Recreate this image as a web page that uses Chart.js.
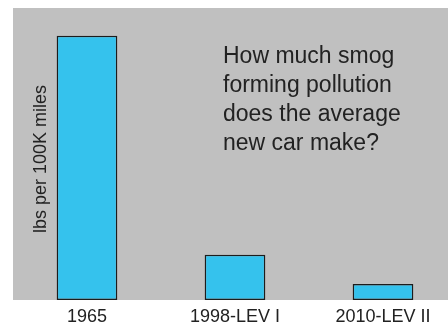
<!DOCTYPE html>
<html>
<head>
<meta charset="utf-8">
<script src="https://cdn.jsdelivr.net/npm/chart.js@4/dist/chart.umd.min.js"></script>
<style>
  html, body { margin: 0; padding: 0; background: #fff; }
  #wrap { width: 448px; height: 323px; overflow: hidden; }
  #wrap div { width: 457px; height: 323px; }
</style>
</head>
<body>
<div id="wrap"><div><canvas id="smogChart"></canvas></div></div>
<script>
const years = ['1965', '1998-LEV I', '2010-LEV II']
const lbsPer100kMiles = [995, 170, 60]
const yMax = 1100
const yTitle = 'lbs per 100K miles'
const question = ['How much smog', 'forming pollution', 'does the average', 'new car make?']

const textFont = '"Liberation Sans", Arial, sans-serif'

// gray panel behind the bars
const panelBackground = {
  id: 'panelBackground',
  beforeDraw(chart) {
    const { ctx, chartArea } = chart
    ctx.save()
    ctx.fillStyle = '#c0c0c0'
    ctx.fillRect(chartArea.left, chartArea.top, chartArea.right - chartArea.left, chartArea.bottom - chartArea.top)
    ctx.restore()
  },
}

// axis title and question text sit inside the panel
const panelText = {
  id: 'panelText',
  afterDraw(chart) {
    const { ctx, chartArea } = chart
    ctx.save()
    ctx.fillStyle = '#222'

    ctx.translate(41, (chartArea.top + chartArea.bottom) / 2 + 5)
    ctx.rotate(-Math.PI / 2)
    ctx.font = `18px ${textFont}`
    ctx.textAlign = 'center'
    ctx.textBaseline = 'middle'
    ctx.fillText(yTitle, 0, 0)
    ctx.setTransform(1, 0, 0, 1, 0, 0)

    ctx.font = `23px ${textFont}`
    ctx.textAlign = 'left'
    ctx.textBaseline = 'alphabetic'
    question.forEach((line, i) => {
      ctx.fillText(line, 223, 63 + i * 29)
    })
    ctx.restore()
  },
}

const ctx = document.getElementById('smogChart').getContext('2d')

new Chart(ctx, {
  type: 'bar',
  data: {
    labels: years,
    datasets: [
      {
        data: lbsPer100kMiles,
        backgroundColor: '#35c2ed',
        borderColor: '#1c1c1c',
        borderWidth: 1.5,
        borderSkipped: false,
        barPercentage: 0.41,
        categoryPercentage: 1,
      },
    ],
  },
  options: {
    responsive: true,
    maintainAspectRatio: false,
    animation: false,
    layout: { padding: { top: 8, left: 13, right: 0, bottom: 0 } },
    plugins: {
      legend: { display: false },
      tooltip: { enabled: false },
    },
    scales: {
      x: {
        grid: { display: false, drawTicks: false },
        border: { display: false },
        ticks: {
          color: '#222',
          padding: 6,
          font: { family: textFont, size: 18 },
          maxRotation: 0,
        },
        afterFit(scale) {
          scale.height = 23
        },
      },
      y: {
        display: false,
        min: 0,
        max: yMax,
      },
    },
  },
  plugins: [panelBackground, panelText],
})
</script>
</body>
</html>
